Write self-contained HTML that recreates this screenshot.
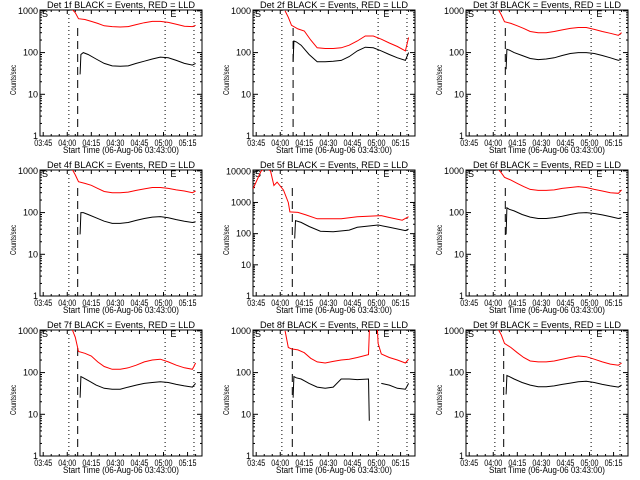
<!DOCTYPE html>
<html><head><meta charset="utf-8">
<style>
html,body{margin:0;padding:0;background:#fff;}
svg{display:block;font-family:"Liberation Sans",sans-serif;}
</style></head>
<body>
<svg id="chart" width="640" height="480" viewBox="0 0 640 480" xmlns="http://www.w3.org/2000/svg"></svg>
<script>
// Shared time grids (minutes after 03:43:00)
const redTimes = [20,22,24,28,32,36,40,45,50,55,60,65,70,75,80,85,90,95,97];
const blackTimes = [25,25.5,27,30,35,40,45,50,55,60,65,70,75,80,85,90,95,97];
const xTickLabels = ["03:45","04:00","04:15","04:30","04:45","05:00","05:15"];
const xTickMinutes = [2,17,32,47,62,77,92];
const detNames = ["1f","2f","3f","4f","5f","6f","7f","8f","9f"];
const dashedMin = [23.5,25,24.5,23.5,24.5,24.5,23.5,24.5,23.5];
const dottedMin = [18,78,96];

const red1 = [1100,900,650,620,560,500,440,420,410,420,470,520,560,560,530,480,430,420,450];
const black1 = [30,90,100,90,70,55,48,47,48,55,62,70,78,75,65,55,50,55,55];
const red2 = [1000,700,450,370,330,200,130,125,125,130,150,190,250,250,210,170,140,110,230];
const black2 = [60,190,180,150,90,60,60,62,65,80,110,135,130,110,90,75,65,100];
const red3 = [1100,800,550,500,440,380,320,300,300,320,350,380,400,400,360,320,290,260,300];
const black3 = [40,120,115,100,85,72,68,70,75,85,95,100,100,95,85,75,65,70];
const red4 = [1100,800,550,500,450,380,320,300,300,310,340,370,400,400,380,350,330,300,330];
const black4 = [30,100,100,90,75,62,55,55,58,65,72,78,80,75,68,62,58,60];
const red5Times = [0,5,8,11,13,15,19,22,23,28,33,40,55,65,80,85,93,97];
const red5 = [2750,10000,14000,10000,3500,4500,2500,1000,500,480,400,300,300,350,380,330,270,350];
const black5Times = [26,26.5,30,35,42,50,60,65,78,85,95,97];
const black5 = [70,260,230,170,120,115,130,160,190,160,125,140];
const red6 = [1100,900,700,600,500,420,360,340,340,350,380,400,420,400,360,330,300,290,350];
const black6 = [30,130,120,110,90,78,72,72,76,82,90,98,100,95,88,80,72,75];
const red7 = [1100,700,320,290,250,180,140,120,120,130,150,180,200,210,180,150,130,120,170];
const black7 = [25,80,75,65,50,42,40,40,45,50,55,58,60,58,52,48,45,55];
const red8Times = [20,22,24,28,32,36,40,45,50,55,60,65,72,73,77,78,80,85,90,95,97];
const red8 = [1000,400,370,350,300,220,180,170,185,200,210,230,270,3000,3000,500,280,230,200,170,210];
const black8Times = [25,25.5,27,30,35,40,45,50,55,60,65,72,72.5,78,80,85,90,95,97];
const black8 = [25,80,75,70,55,45,42,45,70,70,68,70,7,null,55,50,42,40,55];
const red9 = [1100,800,500,400,300,230,190,180,180,190,210,230,250,240,210,180,160,150,170];
const black9 = [30,85,80,70,58,50,46,46,48,52,56,60,62,58,52,48,45,50];

const panels = [
 {rt:redTimes,rv:red1,bt:blackTimes,bv:black1,top:3},
 {rt:redTimes,rv:red2,bt:blackTimes,bv:black2,top:3},
 {rt:redTimes,rv:red3,bt:blackTimes,bv:black3,top:3},
 {rt:redTimes,rv:red4,bt:blackTimes,bv:black4,top:3},
 {rt:red5Times,rv:red5,bt:black5Times,bv:black5,top:4},
 {rt:redTimes,rv:red6,bt:blackTimes,bv:black6,top:3},
 {rt:redTimes,rv:red7,bt:blackTimes,bv:black7,top:3},
 {rt:red8Times,rv:red8,bt:black8Times,bv:black8,top:3},
 {rt:redTimes,rv:red9,bt:blackTimes,bv:black9,top:3}
];

const NS="http://www.w3.org/2000/svg";
const svg=document.getElementById('chart');
function mk(tag,attrs,parent){const e=document.createElementNS(NS,tag);for(const k in attrs)e.setAttribute(k,attrs[k]);parent.appendChild(e);return e;}

panels.forEach((p,i)=>{
  const ox=(i%3)*213, oy=Math.floor(i/3)*160;
  const L=ox+40,R=ox+202,T=oy+10,B=oy+136;
  const tMax=101;
  const decMax = p.top===4 ? Math.log10(11000) : Math.log10(1050);
  const xs=m=>L+(m/tMax)*(R-L);
  const ys=v=>B-(Math.log10(v)/decMax)*(B-T);
  const g=mk('g',{},svg);
  
  
  const cp=mk('clipPath',{id:'cp'+i},g);
  mk('rect',{x:L,y:T,width:R-L,height:B-T},cp);
  const tt=mk('text',{x:ox+47,y:oy+8,'font-size':9,textLength:148,lengthAdjust:'spacingAndGlyphs',fill:'#000'},g);
  tt.textContent='Det '+detNames[i]+' BLACK = Events, RED = LLD';
  
  
  const fr=mk('rect',{x:L,y:T,width:R-L,height:B-T,fill:'none',stroke:'#000','stroke-width':1},g);
  
  
  for(let d=0;d<=p.top;d++){
    const y=ys(Math.pow(10,d));
    mk('line',{x1:L,x2:L+5,y1:y,y2:y,stroke:'#000'},g);
    mk('line',{x1:R,x2:R-5,y1:y,y2:y,stroke:'#000'},g);
    const str=String(Math.pow(10,d));
    const lb=mk('text',{x:L-2,y:y+3,'font-size':9,'text-anchor':'end',fill:'#000'},g);
    lb.textContent=str;
    
    
    if(d<p.top){for(let k=2;k<=9;k++){const yy=ys(k*Math.pow(10,d));if(yy<T)continue;
      mk('line',{x1:L,x2:L+2,y1:yy,y2:yy,stroke:'#000'},g);
      mk('line',{x1:R,x2:R-2,y1:yy,y2:yy,stroke:'#000'},g);}}
  }
  xTickMinutes.forEach((m,j)=>{
    const x=xs(m);
    mk('line',{x1:x,x2:x,y1:B,y2:B-4,stroke:'#000'},g);
    mk('line',{x1:x,x2:x,y1:T,y2:T+4,stroke:'#000'},g);
    for(let k=5;k<15;k+=5){const xm=xs(m+k);if(xm<R){mk('line',{x1:xm,x2:xm,y1:B,y2:B-2,stroke:'#000'},g);mk('line',{x1:xm,x2:xm,y1:T,y2:T+2,stroke:'#000'},g);}}
    const lb=mk('text',{x:x-9,y:B+10,'font-size':9,textLength:18,lengthAdjust:'spacingAndGlyphs',fill:'#000'},g);
    lb.textContent=xTickLabels[j];
    
    
  });
  const xt=mk('text',{x:ox+63,y:oy+153,'font-size':9,textLength:116,lengthAdjust:'spacingAndGlyphs',fill:'#000'},g);
  xt.textContent='Start Time (06-Aug-06 03:43:00)';
  
  
  const yt=mk('text',{x:-15,y:3,'font-size':8,textLength:30,lengthAdjust:'spacingAndGlyphs',fill:'#000',transform:'translate('+(ox+13)+','+(oy+80)+') rotate(-90)'},g);
  yt.textContent='Counts/sec';
  
  
  const s=mk('text',{x:L+2,y:T+7,'font-size':9,fill:'#000'},g);
  s.textContent='S';
  
  
  const e=mk('text',{x:xs(80)+2,y:T+7,'font-size':9,fill:'#000'},g);
  e.textContent='E';
  
  
  dottedMin.forEach(m=>{const x=xs(m);const l=mk('line',{x1:x,x2:x,y1:T,y2:B,stroke:'#000','stroke-dasharray':'1,3'},g);
    
    });
  const dx=xs(dashedMin[i]);
  const dl=mk('line',{x1:dx,x2:dx,y1:T+18,y2:B,stroke:'#000','stroke-dasharray':'8,5'},g);
  
  
  function series(ts,vs,color,name){
    let d='',pen=false;
    ts.forEach((t,k)=>{const v=vs[k];if(v==null){pen=false;return;}
      d+=(pen?'L':'M')+xs(t).toFixed(1)+','+ys(v).toFixed(1);pen=true;});
    const pth=mk('path',{d:d,fill:'none',stroke:color,'stroke-width':1,'clip-path':'url(#cp'+i+')'},g);
    
    
  }
  series(p.rt,p.rv,'#ff0000','lld-series-red');
  series(p.bt,p.bv,'#000000','events-series-black');
});
</script>
</body></html>
